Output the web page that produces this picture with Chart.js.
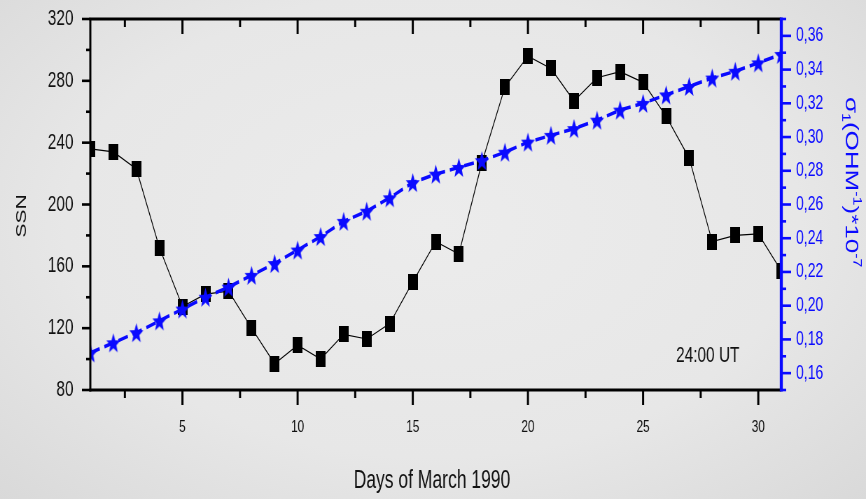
<!DOCTYPE html>
<html>
<head>
<meta charset="utf-8">
<script src="https://cdn.jsdelivr.net/npm/chart.js@4.4.0/dist/chart.umd.min.js"></script>
<style>
    html, body { margin: 0; padding: 0; }
    body {
        width: 866px; height: 499px; overflow: hidden;
        background: radial-gradient(ellipse at 50% 45%, #ececec 0%, #e7e7e7 60%, #d9d9d9 100%);
    }
    #chart { display: block; }
</style>
</head>
<body>
<!-- drawn wide, shown narrow: the original figure is squeezed sideways -->
<canvas id="chart" width="1237" height="499" style="width:866px;height:499px"></canvas>
<script>
// days of March 1990
const days = [1, 2, 3, 4, 5, 6, 7, 8, 9, 10, 11, 12, 13, 14, 15, 16,
    17, 18, 19, 20, 21, 22, 23, 24, 25, 26, 27, 28, 29, 30, 31];
// sunspot number
const ssn = [236, 234, 223, 172, 134, 142, 144, 120, 97, 109, 100, 116, 113, 123, 150, 176,
    168, 227, 276, 296, 288, 267, 282, 286, 279, 257, 230, 176, 180, 181, 157];
// conductivity sigma1, (OHM^-1)*10^-7
const sigma = [0.172, 0.178, 0.184, 0.191, 0.198, 0.205, 0.211, 0.218, 0.225, 0.233, 0.241, 0.250,
    0.256, 0.264, 0.273, 0.278, 0.282, 0.286, 0.291, 0.297, 0.301, 0.305, 0.310, 0.316,
    0.320, 0.325, 0.330, 0.335, 0.339, 0.344, 0.349];

const dayTicks = [5, 10, 15, 20, 25, 30];
const ssnTicks = [80, 120, 160, 200, 240, 280, 320];
const sigmaTicks = [0.16, 0.18, 0.20, 0.22, 0.24, 0.26, 0.28, 0.30, 0.32, 0.34, 0.36];

const FONT = "'Liberation Sans', Arial, sans-serif";
const BLUE = '#0a0aff';
const W = 1237;

//marker images
function makeRect(w, h, color) {
    const c = document.createElement('canvas');
    c.width = w; c.height = h;
    const g = c.getContext('2d');
    g.fillStyle = color;
    g.fillRect(0, 0, w, h);
    return c;
}

function makeStar(r, color) {
    const c = document.createElement('canvas');
    const size = Math.ceil(r * 2) + 2;
    c.width = size; c.height = size;
    const g = c.getContext('2d');
    g.translate(size / 2, size / 2 + r * 0.1);
    g.beginPath();
    for (let i = 0; i < 10; i++) {
        const rad = i % 2 ? r * 0.43 : r;
        const a = -Math.PI / 2 + i * Math.PI / 5;
        g.lineTo(rad * Math.cos(a), rad * Math.sin(a));
    }
    g.closePath();
    g.fillStyle = color;
    g.fill();
    return c;
}

// minor ticks halfway between majors
function minors(major, min, max) {
    const step = major[1] - major[0];
    const out = [];
    for (let i = 0; i <= major.length; i++) {
        const v = (i < major.length ? major[i] : major[major.length - 1] + step) - step / 2;
        if (v >= min - 1e-9 && v <= max + 1e-9) out.push(v);
    }
    return out;
}

function seg(ctx, x1, y1, x2, y2) {
    ctx.beginPath();
    ctx.moveTo(x1, y1);
    ctx.lineTo(x2, y2);
    ctx.stroke();
}

// no extra room for half labels, the frame is placed by hand
function noPad(s) {
    s.paddingTop = 0;
    s.paddingBottom = 0;
    s.paddingLeft = 0;
    s.paddingRight = 0;
}

// frame and tick marks, Origin style
const axisFrame = {
    id: 'axisFrame',
    afterDatasetsDraw(chart) {
        const ctx = chart.ctx;
        const a = chart.chartArea;
        const sx = chart.scales.x, sy = chart.scales.y, sy2 = chart.scales.y2;
        ctx.save();
        ctx.strokeStyle = '#000';

        // bottom and top
        ctx.lineWidth = 3;
        seg(ctx, a.left - 1.5, a.bottom, a.right, a.bottom);
        seg(ctx, a.left - 1.5, a.top, a.right, a.top);
        dayTicks.forEach(v => {
            const px = sx.getPixelForValue(v);
            seg(ctx, px, a.bottom, px, a.bottom + 15);
            seg(ctx, px, a.top, px, a.top + 15);
        });
        minors(dayTicks, sx.min, sx.max).forEach(v => {
            const px = sx.getPixelForValue(v);
            seg(ctx, px, a.bottom, px, a.bottom + 8);
            seg(ctx, px, a.top, px, a.top + 8);
        });

        // left
        ctx.lineWidth = 3;
        seg(ctx, a.left, a.top, a.left, a.bottom + 1.5);
        ctx.lineWidth = 2.6;
        ssnTicks.forEach(v => {
            const py = sy.getPixelForValue(v);
            seg(ctx, a.left, py, a.left - 12, py);
        });
        minors(ssnTicks, sy.min, sy.max).forEach(v => {
            const py = sy.getPixelForValue(v);
            seg(ctx, a.left, py, a.left - 6, py);
        });

        // right, blue
        ctx.strokeStyle = BLUE;
        ctx.lineWidth = 4.3;
        seg(ctx, a.right, a.top - 1.5, a.right, a.bottom + 1.5);
        ctx.lineWidth = 2.6;
        sigmaTicks.forEach(v => {
            const py = sy2.getPixelForValue(v);
            seg(ctx, a.right, py, a.right + 14, py);
        });
        minors(sigmaTicks, sy2.min, sy2.max).forEach(v => {
            const py = sy2.getPixelForValue(v);
            seg(ctx, a.right, py, a.right + 7, py);
        });
        ctx.restore();
    }
};

// axis titles and the time note
const titles = {
    id: 'titles',
    afterDraw(chart) {
        const ctx = chart.ctx;
        ctx.save();
        ctx.fillStyle = '#111';

        ctx.font = `25px ${FONT}`;
        ctx.textAlign = 'center';
        ctx.textBaseline = 'alphabetic';
        ctx.fillText('Days of March 1990', 617, 488);

        ctx.font = `22px ${FONT}`;
        ctx.fillText('24:00 UT', 1011, 361.5);

        ctx.save();
        ctx.translate(31, 216);
        ctx.rotate(-Math.PI / 2);
        ctx.font = `21px ${FONT}`;
        ctx.textBaseline = 'middle';
        ctx.fillText('SSN', 0, 0);
        ctx.restore();

        // sigma_1 (OHM^-1)*10^-7, reading downwards
        ctx.translate(1208, 97);
        ctx.rotate(Math.PI / 2);
        ctx.fillStyle = BLUE;
        ctx.textAlign = 'left';
        const parts = [
            ['σ', 26, 0], ['1', 16, 5], ['(OHM', 26, 0], ['-1', 16, -11],
            [')*10', 26, 0], ['-7', 16, -11]
        ];
        let x = 0;
        parts.forEach(p => {
            ctx.font = `${p[1]}px ${FONT}`;
            ctx.fillText(p[0], x, p[2]);
            x += ctx.measureText(p[0]).width;
        });
        ctx.restore();
    }
};

const canvas = document.getElementById('chart');

new Chart(canvas, {
    type: 'line',
    data: {
        datasets: [{
            label: 'SSN',
            data: days.map((d, i) => ({ x: d, y: ssn[i] })),
            yAxisID: 'y',
            borderColor: '#000',
            borderWidth: 1.2,
            pointStyle: makeRect(14, 16, '#000'),
            pointRadius: 8,
            order: 1
        }, {
            label: 'sigma',
            data: days.map((d, i) => ({ x: d, y: sigma[i] })),
            yAxisID: 'y2',
            borderColor: BLUE,
            borderWidth: 3.5,
            borderDash: [14, 7],
            pointStyle: makeStar(10.5, BLUE),
            pointRadius: 8,
            order: 0
        }]
    },
    options: {
        responsive: false,
        devicePixelRatio: 1,
        animation: false,
        layout: { padding: { top: 19, left: 0, right: 0, bottom: 0 } },
        plugins: { legend: { display: false }, tooltip: { enabled: false } },
        scales: {
            x: {
                type: 'linear',
                min: 1,
                max: 31,
                grid: { display: false, drawTicks: false },
                border: { display: false },
                afterBuildTicks: s => { s.ticks = dayTicks.map(v => ({ value: v })); },
                afterFit: s => { s.height = 109; noPad(s); },
                ticks: {
                    padding: 27,
                    color: '#111',
                    maxRotation: 0,
                    font: { family: FONT, size: 17 }
                }
            },
            y: {
                position: 'left',
                min: 80,
                max: 320,
                grid: { display: false, drawTicks: false },
                border: { display: false },
                afterBuildTicks: s => { s.ticks = ssnTicks.map(v => ({ value: v })); },
                afterFit: s => { s.width = 129; noPad(s); },
                ticks: {
                    padding: 24,
                    color: '#111',
                    font: { family: FONT, size: 22 }
                }
            },
            y2: {
                position: 'right',
                min: 0.15,
                max: 0.37,
                grid: { display: false, drawTicks: false },
                border: { display: false },
                afterBuildTicks: s => { s.ticks = sigmaTicks.map(v => ({ value: v })); },
                afterFit: s => { s.width = W - 1116; noPad(s); },
                ticks: {
                    padding: 21,
                    color: BLUE,
                    font: { family: FONT, size: 20 },
                    callback: v => v.toFixed(2).replace('.', ',')
                }
            }
        }
    },
    plugins: [axisFrame, titles]
});
</script>
</body>
</html>
